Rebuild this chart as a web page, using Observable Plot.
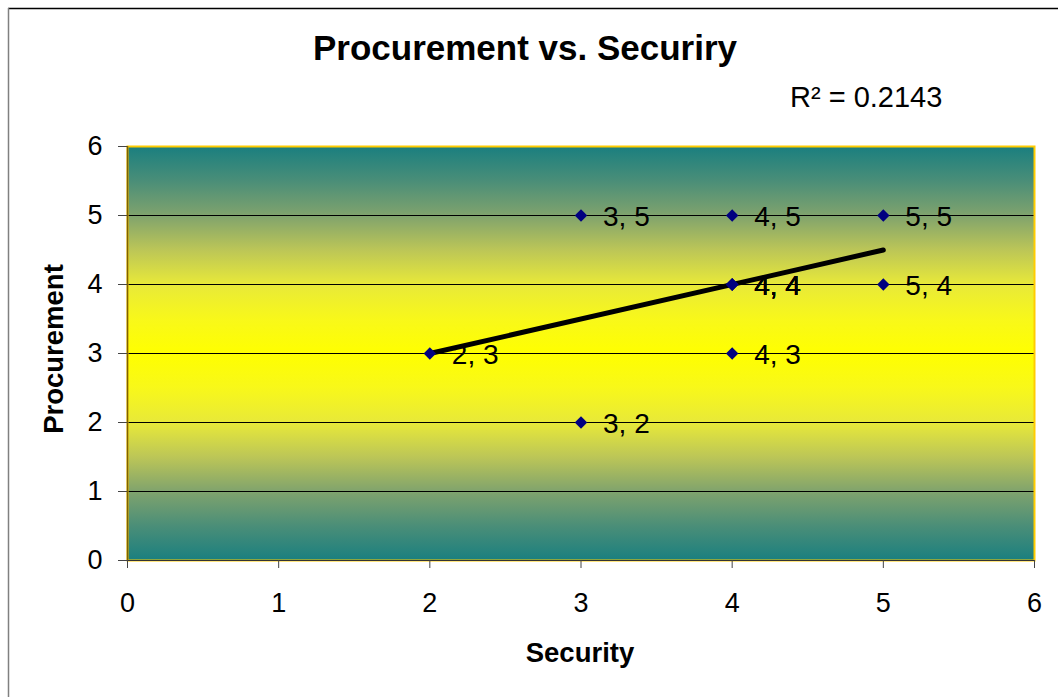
<!DOCTYPE html>
<html>
<head>
<meta charset="utf-8">
<script src="https://cdn.jsdelivr.net/npm/d3@7"></script>
<script src="https://cdn.jsdelivr.net/npm/@observablehq/plot@0.6"></script>
<style>
  html, body { margin: 0; padding: 0; background: #fff; }
  #chart { position: relative; width: 1058px; height: 697px; overflow: hidden; }
</style>
</head>
<body>
<div id="chart"></div>
<script>
// Survey answers: one entry per respondent (several share the 4, 4 answer)
const security    = [2, 3, 3, 4, 4, 4, 4, 4, 4, 5, 5];
const procurement = [3, 5, 2, 5, 4, 4, 4, 4, 3, 5, 4];

const axisTicks  = [0, 1, 2, 3, 4, 5, 6];
const gridLevels = [1, 2, 3, 4, 5];

const chartTitle = "Procurement vs. Securiry";
const xTitle = "Security";
const yTitle = "Procurement";

const points = security.map((s, i) => ({
  security: s,
  procurement: procurement[i],
  label: `${s}, ${procurement[i]}`
}));

// Coefficient of determination of the least-squares line
const mx = d3.mean(security), my = d3.mean(procurement);
let sxy = 0, sxx = 0, syy = 0;
for (let i = 0; i < security.length; i++) {
  const dx = security[i] - mx, dy = procurement[i] - my;
  sxy += dx * dy; sxx += dx * dx; syy += dy * dy;
}
const r2 = (sxy * sxy) / (sxx * syy);

// Plot-area fill: teal at the edges, bright yellow through the middle
const gradientStops = [
  [0.000, "#1a7f7f"], [0.083, "#4a8e78"], [0.167, "#80a36d"], [0.250, "#bcc657"],
  [0.333, "#e8e939"], [0.417, "#f8f81a"], [0.500, "#ffff00"], [0.583, "#f8f81a"],
  [0.667, "#e8e939"], [0.750, "#bcc657"], [0.833, "#80a36d"], [0.917, "#4a8e78"],
  [1.000, "#1a7f7f"]
];

function gradientDefs() {
  const ns = "http://www.w3.org/2000/svg";
  const defs = document.createElementNS(ns, "defs");
  const grad = document.createElementNS(ns, "linearGradient");
  grad.setAttribute("id", "plotAreaFill");
  grad.setAttribute("x1", "0"); grad.setAttribute("x2", "0");
  grad.setAttribute("y1", "0"); grad.setAttribute("y2", "1");
  for (const [offset, color] of gradientStops) {
    const stop = document.createElementNS(ns, "stop");
    stop.setAttribute("offset", offset);
    stop.setAttribute("stop-color", color);
    grad.appendChild(stop);
  }
  defs.appendChild(grad);
  return defs;
}

const font = "Arial, 'Liberation Sans', sans-serif";

const plot = Plot.plot({
  width: 1058,
  height: 697,
  marginLeft: 127,
  marginRight: 24,
  marginTop: 146,
  marginBottom: 137,
  style: { fontFamily: font, fontSize: "27px", color: "#000", background: "transparent" },
  x: { domain: [0, 6] },
  y: { domain: [0, 6] },
  marks: [
    gradientDefs,
    Plot.frame({ fill: "url(#plotAreaFill)" }),
    Plot.ruleY(gridLevels, { stroke: "#000", strokeWidth: 1 }),
    Plot.frame({ stroke: "#FFCC00", strokeWidth: 2 }),
    Plot.ruleY([0], { stroke: "#333", strokeWidth: 1 }),
    Plot.ruleX([0], { stroke: "#7d6200", strokeWidth: 1.5 }),
    Plot.axisX({ ticks: axisTicks, tickSize: 8, tickPadding: 24, stroke: "#444", fill: "#000", label: null, tickFormat: d => String(d) }),
    Plot.axisY({ ticks: axisTicks, tickSize: 9, tickPadding: 16, stroke: "#444", fill: "#000", label: null, tickFormat: d => String(d) }),
    Plot.linearRegressionY(points, {
      x: "security", y: "procurement",
      stroke: "#000", strokeWidth: 5, strokeLinecap: "round", ci: 0
    }),
    Plot.dot(points, {
      x: "security", y: "procurement",
      symbol: "diamond2", r: 5.6, fill: "#000080", stroke: "none"
    }),
    Plot.text(points, {
      x: "security", y: "procurement", text: "label",
      textAnchor: "start", dx: 22, dy: 2, fontSize: 28, fill: "#000"
    })
  ]
});

const svg = d3.select(plot);

// chart border (top and left edges)
svg.append("line").attr("x1", 8).attr("x2", 1058).attr("y1", 8.5).attr("y2", 8.5)
  .attr("stroke", "#000").attr("stroke-width", 1.5);
svg.append("line").attr("x1", 8.5).attr("x2", 8.5).attr("y1", 8).attr("y2", 697)
  .attr("stroke", "#808080").attr("stroke-width", 1.5);

svg.append("text")
  .attr("x", 525).attr("y", 60)
  .attr("text-anchor", "middle")
  .attr("font-family", font).attr("font-weight", "bold").attr("font-size", 35)
  .attr("fill", "#000")
  .text(chartTitle);

svg.append("text")
  .attr("x", 790).attr("y", 107)
  .attr("text-anchor", "start")
  .attr("font-family", font).attr("font-size", 29)
  .attr("fill", "#000")
  .text(`R² = ${r2.toFixed(4)}`);

svg.append("text")
  .attr("x", 580).attr("y", 662)
  .attr("text-anchor", "middle")
  .attr("font-family", font).attr("font-weight", "bold").attr("font-size", 27.5)
  .attr("fill", "#000")
  .text(xTitle);

svg.append("text")
  .attr("transform", "translate(63,349) rotate(-90)")
  .attr("text-anchor", "middle")
  .attr("font-family", font).attr("font-weight", "bold").attr("font-size", 27.5)
  .attr("fill", "#000")
  .text(yTitle);

document.getElementById("chart").appendChild(plot);
</script>
</body>
</html>
